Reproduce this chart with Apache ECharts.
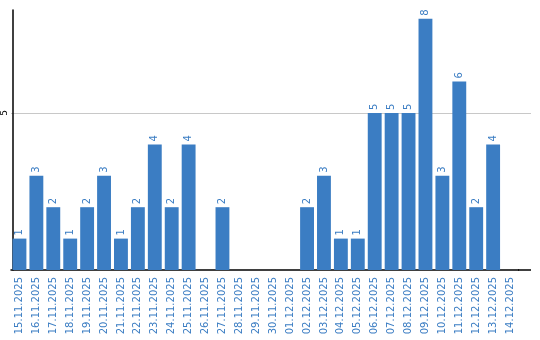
<!DOCTYPE html>
<html><head><meta charset="utf-8">
<script src="https://cdn.jsdelivr.net/npm/echarts@6/dist/echarts.min.js"></script>
<style>html,body{margin:0;padding:0;background:#fff}#c{width:540px;height:340px}</style>
</head><body><div id="c"></div>
<script>
const categories = ["15.11.2025","16.11.2025","17.11.2025","18.11.2025","19.11.2025","20.11.2025","21.11.2025","22.11.2025","23.11.2025","24.11.2025","25.11.2025","26.11.2025","27.11.2025","28.11.2025","29.11.2025","30.11.2025","01.12.2025","02.12.2025","03.12.2025","04.12.2025","05.12.2025","06.12.2025","07.12.2025","08.12.2025","09.12.2025","10.12.2025","11.12.2025","12.12.2025","13.12.2025","14.12.2025"];
const values = [1,3,2,1,2,3,1,2,4,2,4,0,2,0,0,0,0,2,3,1,1,5,5,5,8,3,6,2,4,0];
const yTicks = [5];
const color = '#3b7dc3';
const chart = echarts.init(document.getElementById('c'), null, {renderer:'canvas'});
chart.setOption({
  animation:false,
  grid:{left:8.5, top:10, width:510, bottom:70, containLabel:false},
  xAxis:{type:'category', data:categories, boundaryGap:true,
    axisLine:{lineStyle:{color:'#000', width:1.5}}, axisTick:{show:false},
    axisLabel:{rotate:90, interval:0, color:color, fontFamily:'DejaVu Sans', fontSize:10, margin:7}},
  yAxis:{type:'value', min:0, max:8.28, interval:5, offset:-2,
    axisLine:{show:true, lineStyle:{color:'#000', width:1.5}}, axisTick:{show:false},
    splitLine:{show:false},
    axisLabel:{rotate:90, color:'#000', fontFamily:'DejaVu Sans', fontSize:9, margin:4,
      formatter:v=> yTicks.includes(v)? String(v):''}},
  series:[{type:'bar', data:values, barCategoryGap:'18%', itemStyle:{color:color}, z:2,
    label:{show:true, position:'top', rotate:90, align:'left', verticalAlign:'middle', distance:3,
      color:color, fontFamily:'DejaVu Sans', fontSize:10,
      formatter:p=> p.value? String(p.value):''}}]
});
const axisY = chart.convertToPixel({yAxisIndex:0}, 0);
const gridGraphics = [{type:'line', shape:{x1:518, y1:axisY, x2:531, y2:axisY}, style:{stroke:'#000', lineWidth:1.5}, z:10}];
yTicks.forEach(v=>{
  const y = Math.round(chart.convertToPixel({yAxisIndex:0}, v)) + 0.5;
  gridGraphics.push({type:'line', shape:{x1:11, y1:y, x2:531, y2:y}, style:{stroke:'#c8c8c8', lineWidth:1}, z:0, zlevel:0});
});
chart.setOption({graphic:gridGraphics});
</script></body></html>
